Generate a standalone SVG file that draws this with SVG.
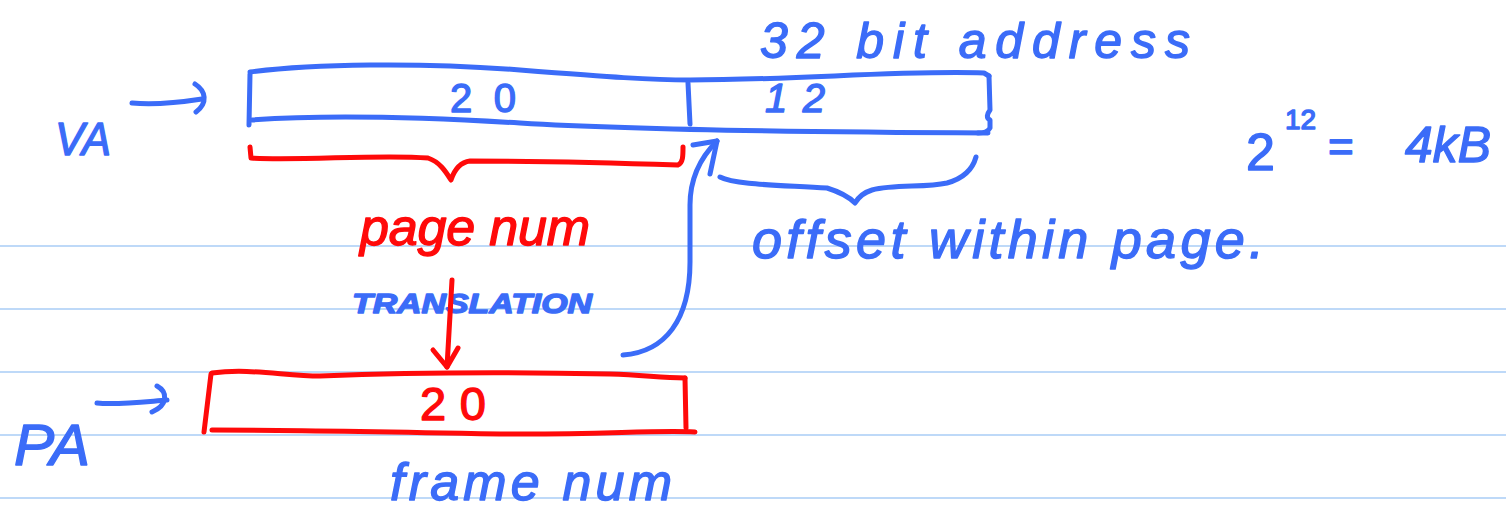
<svg xmlns="http://www.w3.org/2000/svg" width="1506" height="523" viewBox="0 0 1506 523">
  <style>
    .rule { stroke: #a9cdf6; stroke-width: 1.6; fill: none; }
    .ink-b { stroke: #3b6cf8; stroke-width: 5; fill: none; stroke-linecap: round; stroke-linejoin: round; }
    .ink-r { stroke: #ff0a0a; stroke-width: 5; fill: none; stroke-linecap: round; stroke-linejoin: round; }
    .txt-b { fill: #3b6cf8; stroke: #3b6cf8; stroke-width: 1.4; stroke-linejoin: round; font-family: "Liberation Sans", "DejaVu Sans", sans-serif; font-style: italic; }
    .txt-r { fill: #ff0a0a; stroke: #ff0a0a; stroke-width: 1.4; stroke-linejoin: round; font-family: "Liberation Sans", "DejaVu Sans", sans-serif; font-style: italic; }
    .num { font-style: normal; }
  </style>

  <rect width="1506" height="523" fill="#ffffff"/>

  <!-- ruled notebook lines -->
  <g id="ruling">
    <line class="rule" x1="0" y1="246" x2="1506" y2="246"/>
    <line class="rule" x1="0" y1="309" x2="1506" y2="309"/>
    <line class="rule" x1="0" y1="372" x2="1506" y2="372"/>
    <line class="rule" x1="0" y1="435" x2="1506" y2="435"/>
    <line class="rule" x1="0" y1="498" x2="1506" y2="498"/>
  </g>

  <!-- virtual address: 20-bit page number | 12-bit offset -->
  <g id="va-box">
    <path class="ink-b" d="M250,72 C 310,64 420,62 520,70 C 610,77 650,80 690,80 C 800,80 900,70 984,73 L989,76"/>
    <path class="ink-b" d="M250,74 L249,125"/>
    <path class="ink-b" d="M252,120 C 320,115 420,117 520,123 C 620,129 760,132 988,133"/>
    <path class="ink-b" d="M989,76 L990,110 C 987,114 986,118 990,120 L990,128 C 988,132 983,133 978,133"/>
    <path class="ink-b" d="M688,83 L690,124"/>
    <text class="txt-b num" x="450" y="112" font-size="40" textLength="66" lengthAdjust="spacing">20</text>
    <text class="txt-b" x="765" y="112" font-size="40" textLength="60" lengthAdjust="spacing">12</text>
  </g>

  <g id="va-label">
    <text class="txt-b" x="55" y="155" font-size="46" textLength="56" lengthAdjust="spacingAndGlyphs">VA</text>
  </g>

  <g id="width-label">
    <text class="txt-b" x="760" y="58" font-size="50" textLength="430" lengthAdjust="spacing">32 bit address</text>
  </g>

  <g id="page-size">
    <text class="txt-b num" x="1246" y="170" font-size="52">2</text>
    <text class="txt-b num" x="1285" y="129" font-size="28">12</text>
    <text class="txt-b num" x="1328" y="162" font-size="44">=</text>
    <text class="txt-b" x="1405" y="162" font-size="50" textLength="86" lengthAdjust="spacingAndGlyphs">4kB</text>
  </g>

  <g id="page-num-label">
    <text class="txt-r" x="360" y="245" font-size="52" textLength="230" lengthAdjust="spacing">page num</text>
  </g>

  <g id="offset-label">
    <text class="txt-b" x="752" y="258" font-size="54" textLength="512" lengthAdjust="spacing">offset within page.</text>
  </g>

  <g id="translation-label">
    <text class="txt-b" x="352" y="313" font-size="28" font-weight="bold" textLength="240" lengthAdjust="spacingAndGlyphs">TRANSLATION</text>
  </g>

  <!-- physical address: 20-bit frame number -->
  <g id="pa-box">
    <path class="ink-r" d="M212,373 C 250,368 285,376 320,376 C 420,372 520,372 610,374 C 645,375 660,378 685,378"/>
    <path class="ink-r" d="M211,374 L204,432"/>
    <path class="ink-r" d="M685,378 L686,428"/>
    <path class="ink-r" d="M212,430 C 300,430 400,432 500,434 C 600,435 650,430 695,432"/>
    <text class="txt-r num" x="420" y="420" font-size="47" textLength="66" lengthAdjust="spacing">20</text>
  </g>

  <g id="pa-label">
    <text class="txt-b" x="14" y="465" font-size="58" textLength="76" lengthAdjust="spacingAndGlyphs">PA</text>
  </g>

  <g id="frame-num-label">
    <text class="txt-b" x="390" y="500" font-size="52" textLength="282" lengthAdjust="spacing">frame num</text>
  </g>

  <!-- arrows and braces -->
  <g id="connectors">
    <!-- VA pointer -->
    <path class="ink-b" d="M132,103 C 152,105 176,103 202,99"/>
    <path class="ink-b" d="M195,84 C 206,91 208,103 196,112"/>
    <!-- PA pointer -->
    <path class="ink-b" d="M97,403 C 117,405 142,402 167,400"/>
    <path class="ink-b" d="M157,386 C 168,392 168,405 152,412"/>
    <!-- brace over the page-number bits -->
    <path class="ink-r" d="M250,147 L251,158 C 300,161 380,154 428,158 C 440,162 446,172 451,180 C 455,168 462,162 470,161 C 540,161 620,163 678,165 C 683,163 683,156 683,147"/>
    <!-- brace over the offset bits -->
    <path class="ink-b" d="M720,177 C 735,185 780,185 827,188 C 840,192 850,198 855,203 C 858,198 862,193 872,190 C 895,184 925,188 947,183 C 965,178 973,168 976,157"/>
    <!-- page number translated into frame number -->
    <path class="ink-r" d="M452,280 L447,367"/>
    <path class="ink-r" d="M433,350 L447,367 L458,348"/>
    <!-- offset copied unchanged -->
    <path class="ink-b" d="M623,355 C 665,352 690,320 690,262 L690,205 C 690,175 703,155 717,141"/>
    <path class="ink-b" d="M693,145 L717,141 L710,174"/>
  </g>
</svg>
